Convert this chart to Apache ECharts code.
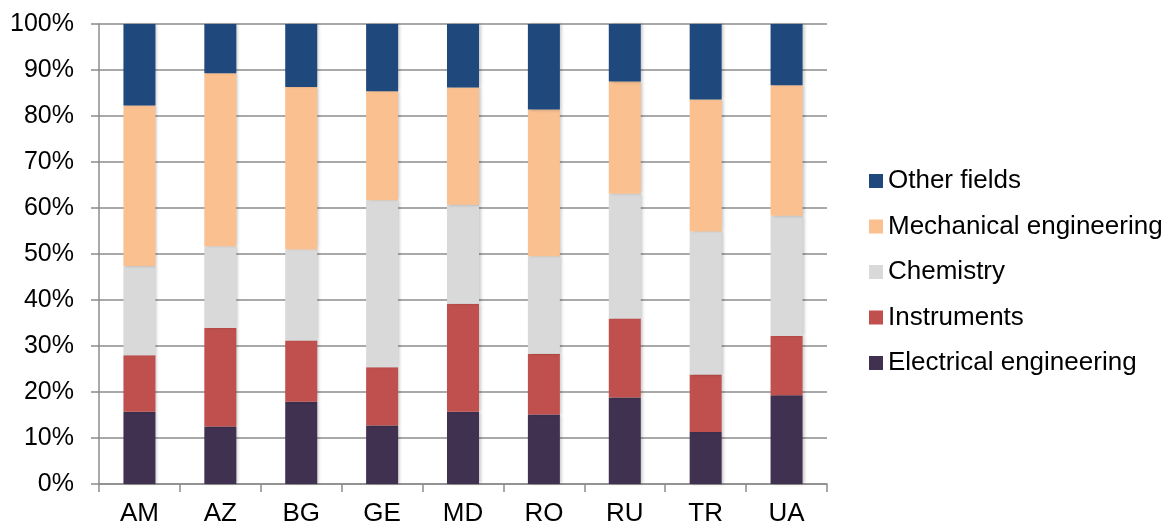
<!DOCTYPE html>
<html>
<head>
<meta charset="utf-8">
<script src="https://cdn.jsdelivr.net/npm/echarts@6/dist/echarts.min.js"></script>
<style>
  html, body { margin: 0; padding: 0; background: #fff; }
  #chart { width: 1173px; height: 525px; }
</style>
</head>
<body>
<div id="chart"></div>
<script>
// Countries on the category axis
const countries = ['AM', 'AZ', 'BG', 'GE', 'MD', 'RO', 'RU', 'TR', 'UA'];

// Share of patents by technology field (%), one array per field
const electrical  = [15.7, 12.5, 17.9, 12.7, 15.7, 15.1, 18.8, 11.3, 19.3];
const instruments = [12.3, 21.4, 13.3, 12.7, 23.5, 13.2, 17.2, 12.5, 12.9];
const chemistry   = [19.4, 17.8, 19.8, 36.3, 21.5, 21.2, 27.1, 31.1, 26.1];
const mechanical  = [34.9, 37.6, 35.3, 23.7, 25.5, 31.9, 24.4, 28.7, 28.4];
const other       = [17.7, 10.7, 13.7, 14.6, 13.8, 18.6, 12.5, 16.4, 13.3];

const yTicks = [0, 10, 20, 30, 40, 50, 60, 70, 80, 90, 100];

const FONT = 'Liberation Sans, Arial, sans-serif';
const GRID_GREY = '#8c8c8c';

const fields = [
  { name: 'Electrical engineering', data: electrical,  color: '#403151' },
  { name: 'Instruments',            data: instruments, color: '#c0504d' },
  { name: 'Chemistry',              data: chemistry,   color: '#d9d9d9' },
  { name: 'Mechanical engineering', data: mechanical,  color: '#fac090' },
  { name: 'Other fields',           data: other,       color: '#1f497d' }
];

const chart = echarts.init(document.getElementById('chart'), null, { renderer: 'canvas' });

chart.setOption({
  animation: false,
  backgroundColor: '#fff',
  grid: { left: 99, right: 346, top: 24, bottom: 41, containLabel: false, outerBoundsMode: 'none' },
  legend: {
    orient: 'vertical',
    left: 864,
    top: 163,
    itemWidth: 14,
    itemHeight: 14,
    itemGap: 19.5,
    icon: 'rect',
    data: fields.map(f => f.name).reverse(),
    textStyle: { fontFamily: FONT, fontSize: 26, color: '#000', lineHeight: 26 }
  },
  xAxis: {
    type: 'category',
    data: countries,
    axisLine: { show: true, lineStyle: { color: GRID_GREY, width: 1.5 } },
    axisTick: { show: true, length: 8, alignWithLabel: false, lineStyle: { color: GRID_GREY, width: 1.5 } },
    axisLabel: { margin: 17, fontFamily: FONT, fontSize: 26, color: '#000' },
    splitLine: { show: false }
  },
  yAxis: {
    type: 'value',
    min: yTicks[0],
    max: yTicks[yTicks.length - 1],
    interval: yTicks[1] - yTicks[0],
    axisLine: { show: true, lineStyle: { color: GRID_GREY, width: 1.5 } },
    axisTick: { show: true, length: 8, lineStyle: { color: GRID_GREY, width: 1.5 } },
    axisLabel: { margin: 25, fontFamily: FONT, fontSize: 25, color: '#000', formatter: v => v + '%' },
    splitLine: { show: true, lineStyle: { color: GRID_GREY, width: 1.5 } }
  },
  series: fields.map(f => ({
    name: f.name,
    type: 'bar',
    stack: 'share',
    data: f.data,
    barWidth: 32,
    itemStyle: {
      color: f.color,
      shadowColor: 'rgba(0,0,0,0.22)',
      shadowBlur: 3,
      shadowOffsetX: 2,
      shadowOffsetY: 0
    }
  }))
});
</script>
</body>
</html>
